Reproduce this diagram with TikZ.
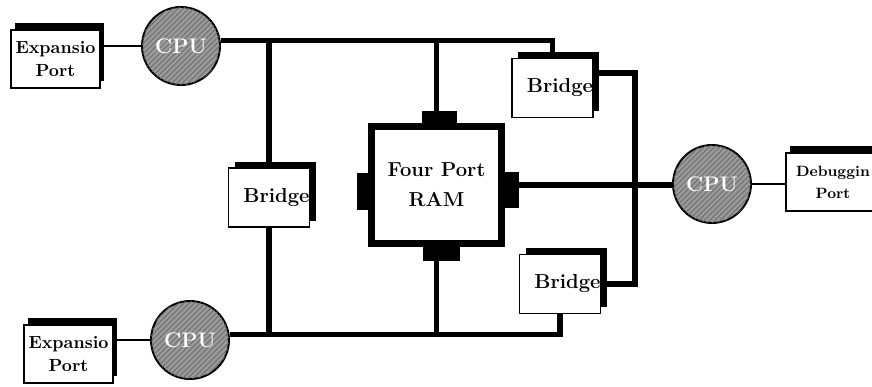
\documentclass[tikz,border=0pt]{standalone}
\usetikzlibrary{positioning,shadows,patterns,backgrounds}

\begin{document}
\begin{tikzpicture}[thick,
        portbox/.style={draw,fill=white,line width=0.9pt,minimum width=1.78cm,minimum height=1.16cm,inner sep=0pt,align=center,font=\bfseries,general shadow={fill=black,shadow xshift=2.3pt,shadow yshift=4pt}},
        bridgebox/.style={draw,fill=white,line width=0.9pt,minimum width=1.62cm,minimum height=1.18cm,inner xsep=0pt,text width=1.62cm,align=right,font=\fontsize{11.5}{14}\selectfont\bfseries,general shadow={fill=black,shadow xshift=3.5pt,shadow yshift=3.5pt}},
        cpu/.style={circle,draw,line width=1.1pt,fill=black!40,minimum size=1.56cm,inner sep=0pt,text=white,font=\bfseries\large,postaction={pattern=north east lines,pattern color=black!60}},
        bus/.style={line width=3pt},
        link/.style={line width=1.1pt}]
        \useasboundingbox (0,0) rectangle (17.44,7.74);
        % ports and processors
        \node[portbox] (exp1) at (1.11,6.56) {Expansio\\[1pt]Port};
        \node[cpu] (cpu1) at (3.62,6.82) {CPU};
        \node[portbox] (exp2) at (1.37,0.66) {Expansio\\[1pt]Port};
        \node[cpu] (cpu2) at (3.80,0.94) {CPU};
        \node[cpu] (cpu3) at (14.24,4.06) {CPU};
        \node[portbox,minimum width=1.88cm,font=\fontsize{8.5}{10.5}\selectfont\bfseries] (deb) at (16.66,4.1) {Debuggin\\[2pt]Port};
        % bridges and memory
        \node[bridgebox] (brL) at (5.38,3.79) {Bridge};
        \node[bridgebox] (brA) at (11.05,5.98) {Bridge};
        \node[bridgebox] (brB) at (11.2,2.06) {Bridge};
        \node[draw,fill=white,line width=4pt,minimum width=2.6cm,minimum height=2.34cm,align=center,font=\fontsize{11.5}{14}\selectfont\bfseries] (ram) at (8.73,4.04) {Four Port\\[3pt]RAM};
        \fill ([xshift=-0.3cm]ram.north) rectangle ([xshift=0.4cm,yshift=0.24cm]ram.north);
        \fill ([xshift=-0.21cm,yshift=0.24cm]ram.west) rectangle ([xshift=0.05cm,yshift=-0.5cm]ram.west);
        \fill ([xshift=-0.05cm,yshift=0.26cm]ram.east) rectangle ([xshift=0.27cm,yshift=-0.46cm]ram.east);
        \fill ([xshift=-0.27cm]ram.south) rectangle ([xshift=0.47cm,yshift=-0.27cm]ram.south);
        \coordinate (rv) at (12.7,4.0);
        % connections
        \begin{scope}[on background layer]
        \draw[link] (cpu1.west) -- (cpu1.west -| exp1.east);
        \draw[link] (cpu2.west) -- (cpu2.west -| exp2.east);
        \draw[link] (cpu3.east) -- (cpu3.east -| deb.west);
        \draw[bus] (cpu1.8) -| (brA.north);
        \draw[bus] (cpu2.8) -| (brB.south);
        \draw[bus] (brL.north) -- (brL.north |- cpu1.8);
        \draw[bus] (brL.south) -- (brL.south |- cpu2.8);
        \draw[bus] (ram.north) -- (ram.north |- cpu1.8);
        \draw[bus] (ram.south) -- (ram.south |- cpu2.8);
        \draw[bus] (ram.east) -- (ram.east -| cpu3.west);
        \draw[bus] ([yshift=0.3cm]brA.east) -| (rv) |- (brB.east);
        \end{scope}
\end{tikzpicture}
\end{document}
